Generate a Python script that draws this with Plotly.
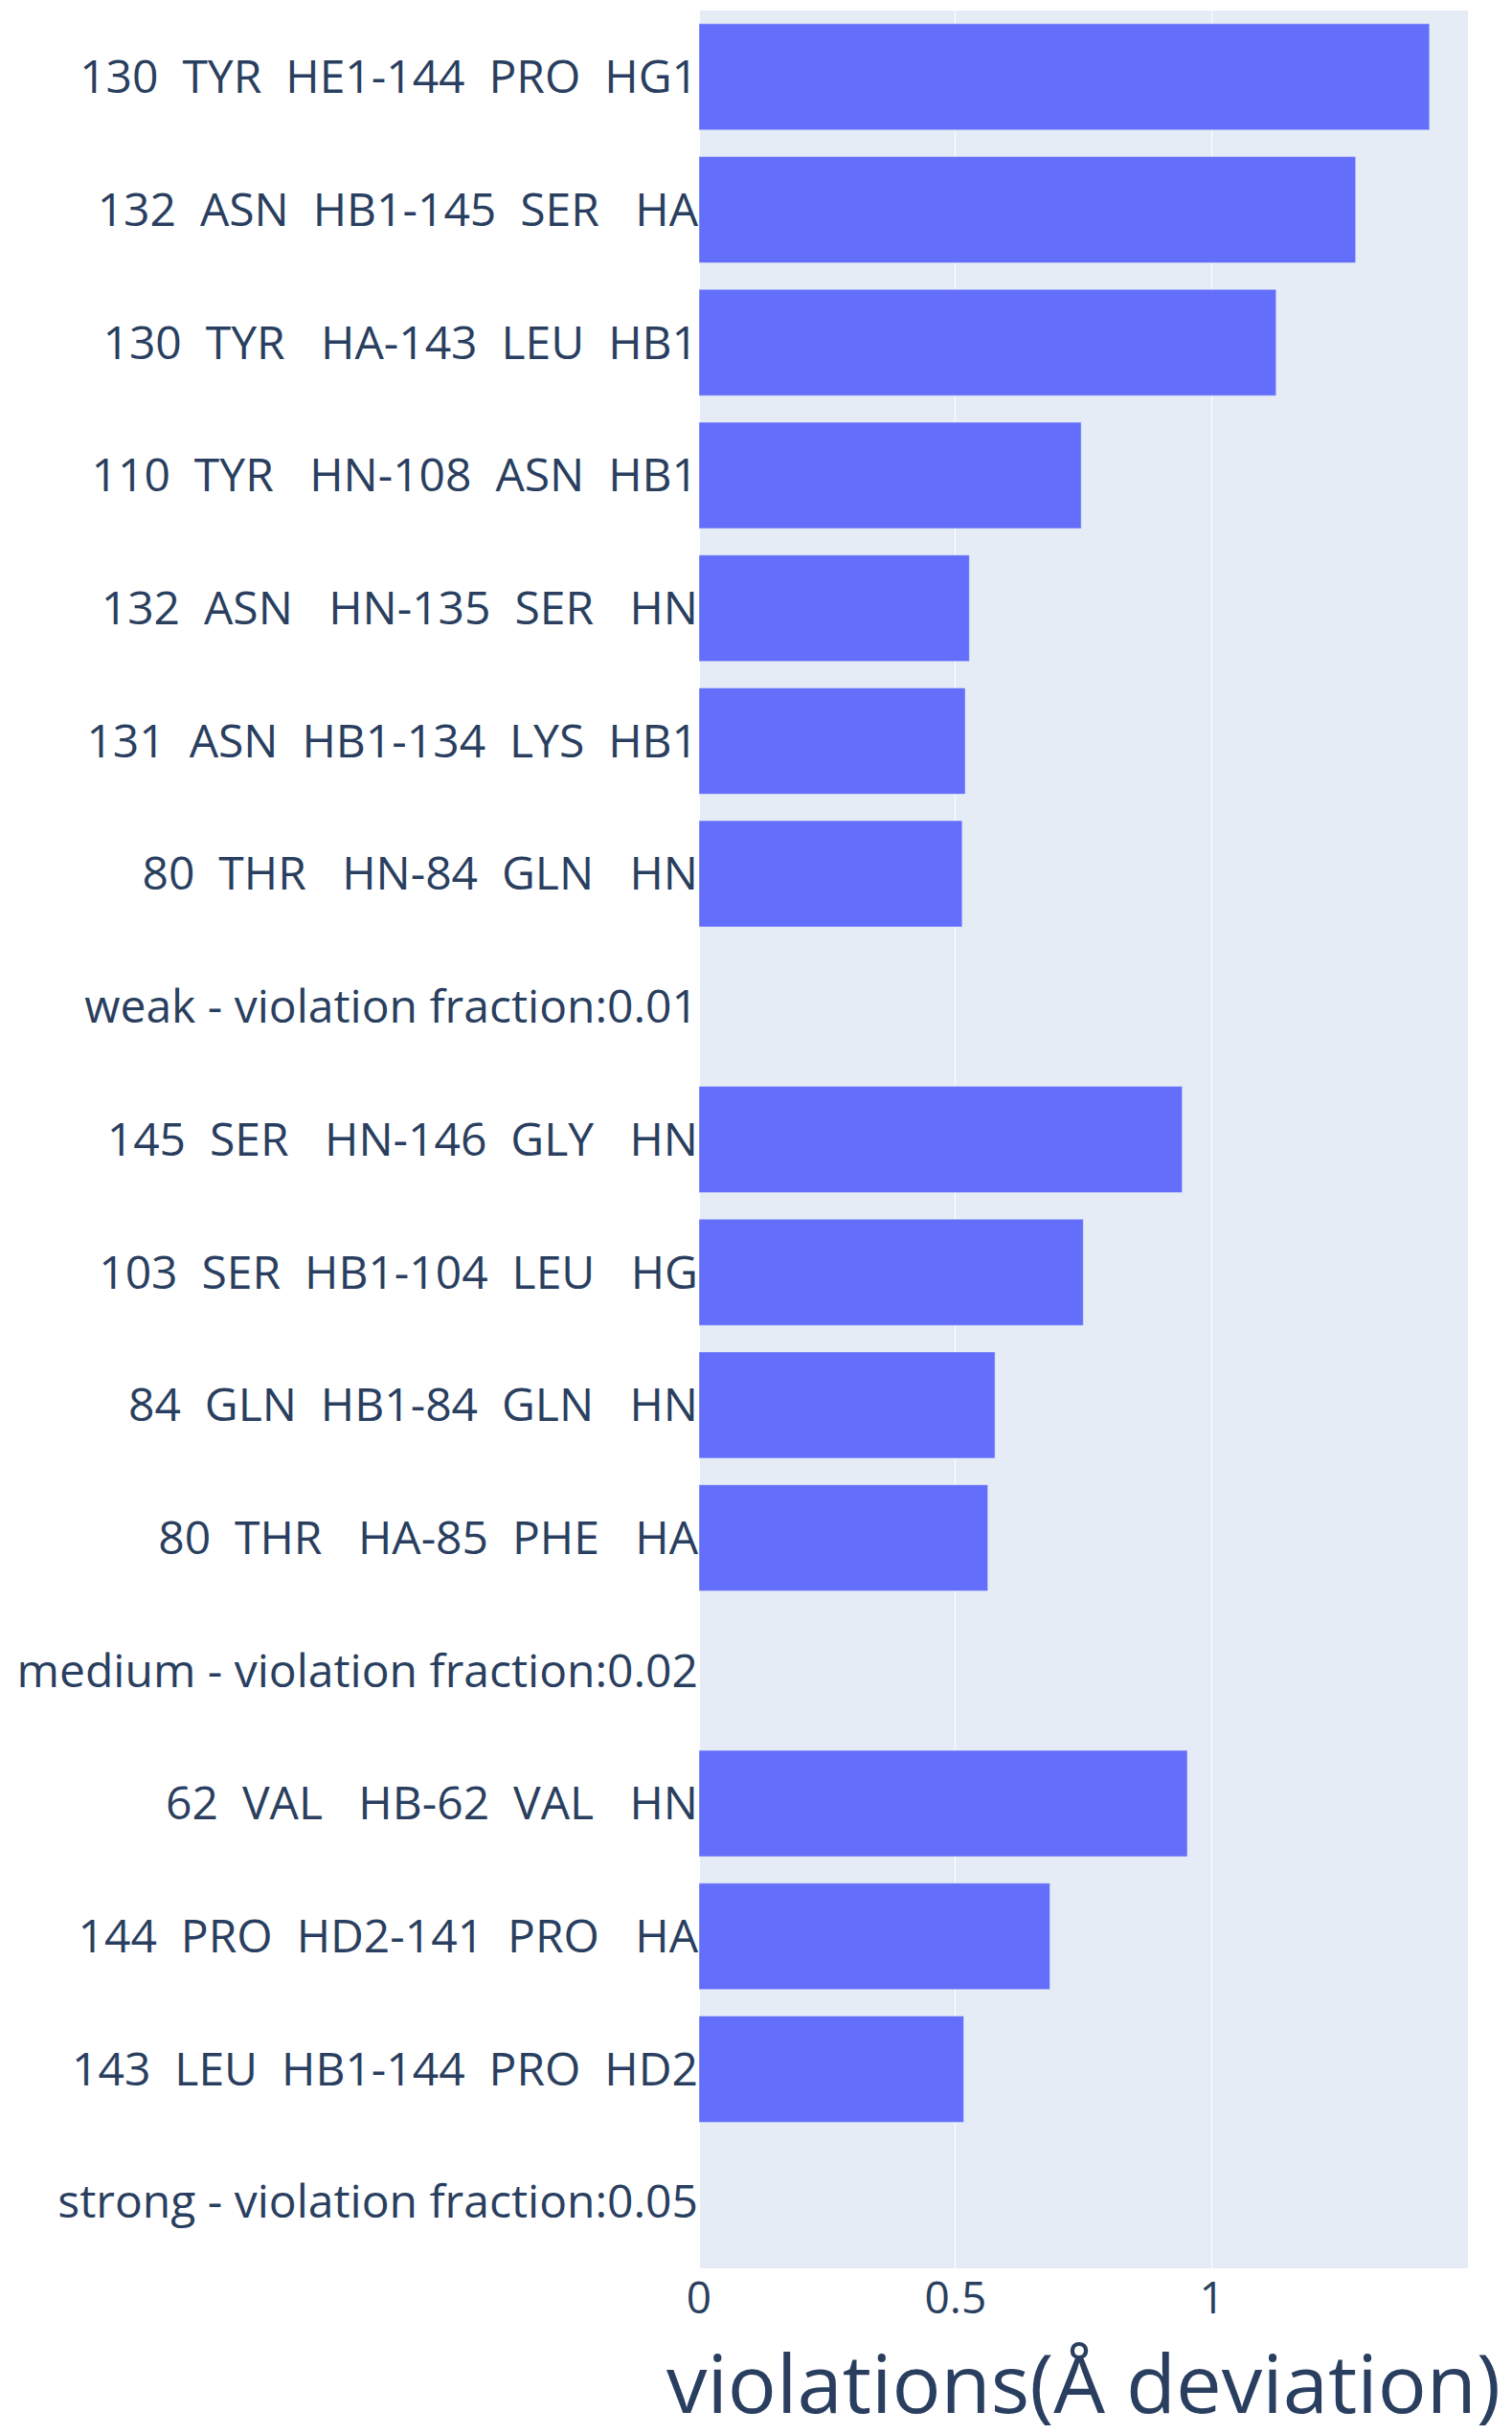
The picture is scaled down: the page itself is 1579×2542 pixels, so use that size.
import plotly.graph_objects as go

# Data (top to bottom as displayed)
res1_num = [130, 132, 130, 110, 132, 131, 80, None, 145, 103, 84, 80, None, 62, 144, 143, None]
res1_name = ["TYR", "ASN", "TYR", "TYR", "ASN", "ASN", "THR", None, "SER", "SER", "GLN", "THR", None, "VAL", "PRO", "LEU", None]
atom1 = ["HE1", "HB1", "HA", "HN", "HN", "HB1", "HN", None, "HN", "HB1", "HB1", "HA", None, "HB", "HD2", "HB1", None]
res2_num = [144, 145, 143, 108, 135, 134, 84, None, 146, 104, 84, 85, None, 62, 141, 144, None]
res2_name = ["PRO", "SER", "LEU", "ASN", "SER", "LYS", "GLN", None, "GLY", "LEU", "GLN", "PHE", None, "VAL", "PRO", "PRO", None]
atom2 = ["HG1", "HA", "HB1", "HB1", "HN", "HB1", "HN", None, "HN", "HG", "HN", "HA", None, "HN", "HA", "HD2", None]
group_headers = {7: "weak - violation fraction:0.01",
                 12: "medium - violation fraction:0.02",
                 16: "strong - violation fraction:0.05"}
violations = [1.424, 1.280, 1.125, 0.745, 0.527, 0.519, 0.513, None,
              0.942, 0.749, 0.577, 0.563, None,
              0.952, 0.684, 0.516, None]
x_tickvals = [0, 0.5, 1]
x_ticktext = ["0", "0.5", "1"]

labels = []
for i in range(len(violations)):
    if i in group_headers:
        labels.append(group_headers[i])
    else:
        labels.append(f"{res1_num[i]} {res1_name[i]:>4} {atom1[i]:>4}-"
                      f"{res2_num[i]} {res2_name[i]:>4} {atom2[i]:>4}")

fig = go.Figure(go.Bar(
    x=violations,
    y=labels,
    orientation="h",
    marker=dict(color="#636efa"),
    showlegend=False,
))

fig.update_layout(
    template="plotly",
    width=1579,
    height=2542,
    margin=dict(l=722, r=54, t=3, b=181, autoexpand=False),
    font=dict(family='"Open Sans", verdana, arial, sans-serif', size=46, color="#2a3f5f"),
    xaxis=dict(
        title=dict(text="violations(Å deviation)", font=dict(size=85)),
        automargin=False,
        tickvals=x_tickvals,
        ticktext=x_ticktext,
        tickfont=dict(size=46),
        rangemode="tozero",
    ),
    yaxis=dict(
        automargin=False,
        categoryorder="array",
        categoryarray=labels,
        autorange="reversed",
        type="category",
        tickfont=dict(size=48),
    ),
)

fig.write_html("out.html")
